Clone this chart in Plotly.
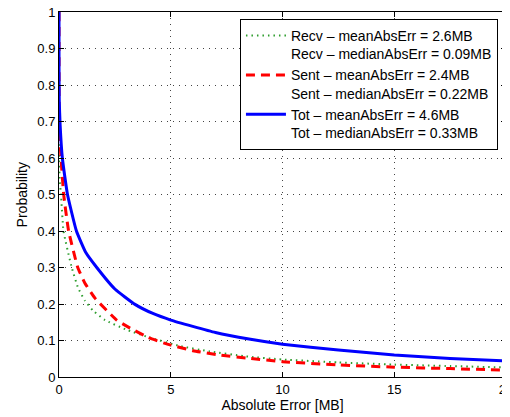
import plotly.graph_objects as go

# Data (CCDF of absolute error)
recv_x = [0, 0.0005, 0.005, 0.03, 0.09, 0.2, 0.57, 0.85, 1.16, 1.54, 2.06, 3.0, 4.0, 5.4, 6.75, 8.3, 10.0, 12.5, 15.0, 17.5, 20.0]
recv_y = [1.0, 0.7, 0.6, 0.54, 0.5, 0.4, 0.3, 0.245, 0.209, 0.181, 0.156, 0.13, 0.109, 0.085, 0.07, 0.057, 0.048, 0.04, 0.034, 0.03, 0.026]

sent_x = [0, 0.001, 0.01, 0.09, 0.21, 0.43, 0.84, 1.16, 1.61, 2.58, 3.18, 4.0, 4.74, 6.0, 7.2, 8.55, 10.0, 12.5, 15.0, 17.5, 20.0]
sent_y = [1.0, 0.8, 0.68, 0.6, 0.5, 0.4, 0.3, 0.257, 0.216, 0.156, 0.134, 0.108, 0.092, 0.072, 0.06, 0.051, 0.042, 0.033, 0.027, 0.023, 0.019]

tot_x = [0, 0.001, 0.01, 0.05, 0.15, 0.38, 0.78, 1.2, 1.69, 2.5, 3.4, 4.2, 5.0, 7.0, 8.5, 10.0, 12.5, 15.0, 17.5, 20.0]
tot_y = [1.0, 0.85, 0.76, 0.69, 0.6, 0.5, 0.4, 0.341, 0.3, 0.241, 0.199, 0.174, 0.156, 0.122, 0.104, 0.09, 0.074, 0.06, 0.051, 0.044]

names = [
    "Recv \u2013 meanAbsErr = 2.6MB<br>Recv \u2013 medianAbsErr = 0.09MB",
    "Sent \u2013 meanAbsErr = 2.4MB<br>Sent \u2013 medianAbsErr = 0.22MB",
    "Tot \u2013 meanAbsErr = 4.6MB<br>Tot \u2013 medianAbsErr = 0.33MB",
]

x_ticks = [0, 5, 10, 15, 20]
y_ticks = [0, 0.1, 0.2, 0.3, 0.4, 0.5, 0.6, 0.7, 0.8, 0.9, 1]
y_tick_text = ["0", "0.1", "0.2", "0.3", "0.4", "0.5", "0.6", "0.7", "0.8", "0.9", "1"]

fig = go.Figure()
fig.add_trace(go.Scatter(x=recv_x, y=recv_y, mode="lines", name=names[0],
                         line=dict(color="#2e9e2e", width=2, dash="1.5px,4px",
                                   shape="spline", smoothing=0.4)))
fig.add_trace(go.Scatter(x=sent_x, y=sent_y, mode="lines", name=names[1],
                         line=dict(color="#ff0000", width=3, dash="9px,6px",
                                   shape="spline", smoothing=0.4)))
fig.add_trace(go.Scatter(x=tot_x, y=tot_y, mode="lines", name=names[2],
                         line=dict(color="#0000ff", width=3,
                                   shape="spline", smoothing=0.4)))

axis_common = dict(
    showline=True, linecolor="black", linewidth=1, mirror="allticks",
    ticks="inside", ticklen=5, tickcolor="black",
    showgrid=True, gridcolor="#444444", gridwidth=1, griddash="1px,5px",
    zeroline=False, automargin=False, ticklabeloverflow="allow",
    tickfont=dict(family="Liberation Sans, Arial", size=13, color="black"),
)

# The page body has an 8px margin, so the figure is sized to fit the window.
fig.update_layout(
    width=502, height=409,
    margin=dict(l=51, r=4, t=4, b=40),
    paper_bgcolor="white", plot_bgcolor="white",
    font=dict(family="Liberation Sans, Arial", size=13, color="black"),
    xaxis=dict(range=[0, 20], tickvals=x_ticks,
               title=dict(text="Absolute Error [MB]", standoff=4,
                          font=dict(size=14)), **axis_common),
    yaxis=dict(range=[0, 1], tickvals=y_ticks, ticktext=y_tick_text,
               **axis_common),
    legend=dict(x=0.982, y=0.981, xanchor="right", yanchor="top",
                bgcolor="white", bordercolor="black", borderwidth=1,
                valign="top", font=dict(size=14), tracegroupgap=0,
                itemwidth=40),
    showlegend=True,
    annotations=[dict(text="Probability", textangle=-90, showarrow=False,
                      xref="paper", yref="paper", x=-0.083, y=0.5,
                      xanchor="center", yanchor="middle",
                      font=dict(size=14))],
)

fig.write_html("out.html")
